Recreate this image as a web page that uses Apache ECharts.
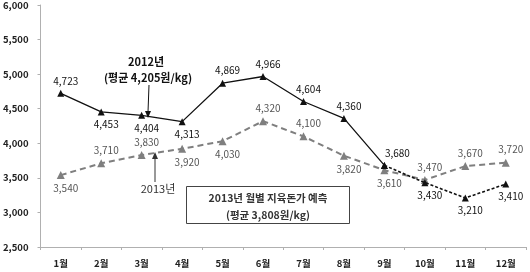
<!DOCTYPE html>
<html>
<head>
<meta charset="utf-8">
<script src="https://cdn.jsdelivr.net/npm/echarts@6/dist/echarts.min.js"></script>
<style>
  html, body { margin: 0; padding: 0; background: #fff; }
  #chart { width: 530px; height: 272px; }
</style>
</head>
<body>
<div id="chart"></div>
<script>
// 월별 지육돈가 (원/kg)
var months = ['1월', '2월', '3월', '4월', '5월', '6월', '7월', '8월', '9월', '10월', '11월', '12월'];
var price2012 = [4723, 4453, 4404, 4313, 4869, 4966, 4604, 4360, 3680, 3430, 3210, 3410];
var price2013 = [3540, 3710, 3830, 3920, 4030, 4320, 4100, 3820, 3610, 3470, 3670, 3720];
var yTicks = [2500, 3000, 3500, 4000, 4500, 5000, 5500, 6000];

var FONT = '"Noto Sans CJK KR", "Noto Sans", sans-serif';

// 2012년: 9월까지 실선, 이후 점선
var splitIdx = 8;
var solid2012 = price2012.map(function (v, i) { return i <= splitIdx ? v : null; });
var dot2012 = price2012.map(function (v, i) { return i >= splitIdx ? v : null; });

// 라벨 위치
var pos2012 = ['top', 'bottom', 'bottom', 'bottom', 'top', 'top', 'top', 'top', 'top', 'bottom', 'bottom', 'bottom'];
var pos2013 = ['bottom', 'top', 'top', 'bottom', 'bottom', 'top', 'top', 'bottom', 'bottom', 'top', 'top', 'top'];

function fmt(v) { return v.toLocaleString('en-US'); }

function labelled(values, pos, color, skip) {
  return values.map(function (v, i) {
    if (v == null) return null;
    var off = [5, 0];
    if (pos[i] == 'top' && i == 8 && color == '#111') off = [13, 0];
    return {
      value: v,
      label: {
        show: !skip || skip.indexOf(i) < 0,
        position: pos[i],
        offset: off,
        distance: 4,
        formatter: function (p) { return fmt(p.value); },
        color: color,
        fontSize: 10,
        fontFamily: FONT
      }
    };
  });
}

var myChart = echarts.init(document.getElementById('chart'));

var option = {
  animation: false,
  grid: { left: 38, right: 4, top: 5, bottom: 25 },
  xAxis: {
    type: 'category',
    data: months,
    boundaryGap: true,
    axisLine: { lineStyle: { color: '#b0b0b0', width: 1 } },
    axisTick: { show: true, length: 3, lineStyle: { color: '#b0b0b0' } },
    axisLabel: { color: '#222', fontSize: 9.5, fontWeight: 'bold', fontFamily: FONT, margin: 12 }
  },
  yAxis: {
    type: 'value',
    min: yTicks[0],
    max: yTicks[yTicks.length - 1],
    interval: 500,
    splitLine: { show: false },
    axisLine: { show: true, lineStyle: { color: '#b0b0b0', width: 1 } },
    axisTick: { show: true, length: 3, lineStyle: { color: '#b0b0b0' } },
    axisLabel: {
      color: '#222', fontSize: 9.5, fontWeight: 'bold', fontFamily: FONT, margin: 12,
      formatter: function (v) { return fmt(v); }
    }
  },
  series: [
    {
      name: '2013년',
      type: 'line',
      data: labelled(price2013, pos2013, '#555'),
      symbol: 'triangle',
      symbolSize: 8,
      itemStyle: { color: '#7f7f7f' },
      lineStyle: { color: '#7f7f7f', width: 2, type: [6, 4] },
      z: 2
    },
    {
      name: '2012년',
      type: 'line',
      data: labelled(solid2012, pos2012, '#111'),
      symbol: 'triangle',
      symbolSize: 7,
      itemStyle: { color: '#111' },
      lineStyle: { color: '#111', width: 1.3 },
      z: 3
    },
    {
      name: '2012년 (9월 이후)',
      type: 'line',
      data: labelled(dot2012, pos2012, '#111', [8]),
      symbol: 'triangle',
      symbolSize: 7,
      itemStyle: { color: '#111' },
      lineStyle: { color: '#111', width: 1.6, type: [3, 2] },
      z: 3
    }
  ],
  graphic: [
    { type: 'text', x: 146, y: 62, style: { text: '2012년', fill: '#111', font: 'bold 11px ' + FONT, align: 'center', verticalAlign: 'middle' } },
    { type: 'text', x: 148, y: 78, style: { text: '(평균 4,205원/kg)', fill: '#111', font: 'bold 11px ' + FONT, align: 'center', verticalAlign: 'middle' } },
    { type: 'line', shape: { x1: 149, y1: 85, x2: 148, y2: 112 }, style: { stroke: '#111', lineWidth: 1 } },
    { type: 'polygon', shape: { points: [[145, 111], [151, 111], [148, 118]] }, style: { fill: '#111' } },
    { type: 'text', x: 158, y: 189, style: { text: '2013년', fill: '#333', font: '11px ' + FONT, align: 'center', verticalAlign: 'middle' } },
    { type: 'line', shape: { x1: 155, y1: 182, x2: 155, y2: 158 }, style: { stroke: '#333', lineWidth: 1 } },
    { type: 'polygon', shape: { points: [[152, 159], [158, 159], [155, 152]] }, style: { fill: '#333' } },
    { type: 'rect', shape: { x: 186.5, y: 186.5, width: 163, height: 37 }, style: { fill: '#fff', stroke: '#444', lineWidth: 1 } },
    { type: 'text', x: 268, y: 198, style: { text: '2013년 월별 지육돈가 예측', fill: '#333', font: 'bold 10.5px ' + FONT, align: 'center', verticalAlign: 'middle' } },
    { type: 'text', x: 268, y: 215, style: { text: '(평균 3,808원/kg)', fill: '#333', font: 'bold 10.5px ' + FONT, align: 'center', verticalAlign: 'middle' } }
  ]
};

myChart.setOption(option);
</script>
</body>
</html>
